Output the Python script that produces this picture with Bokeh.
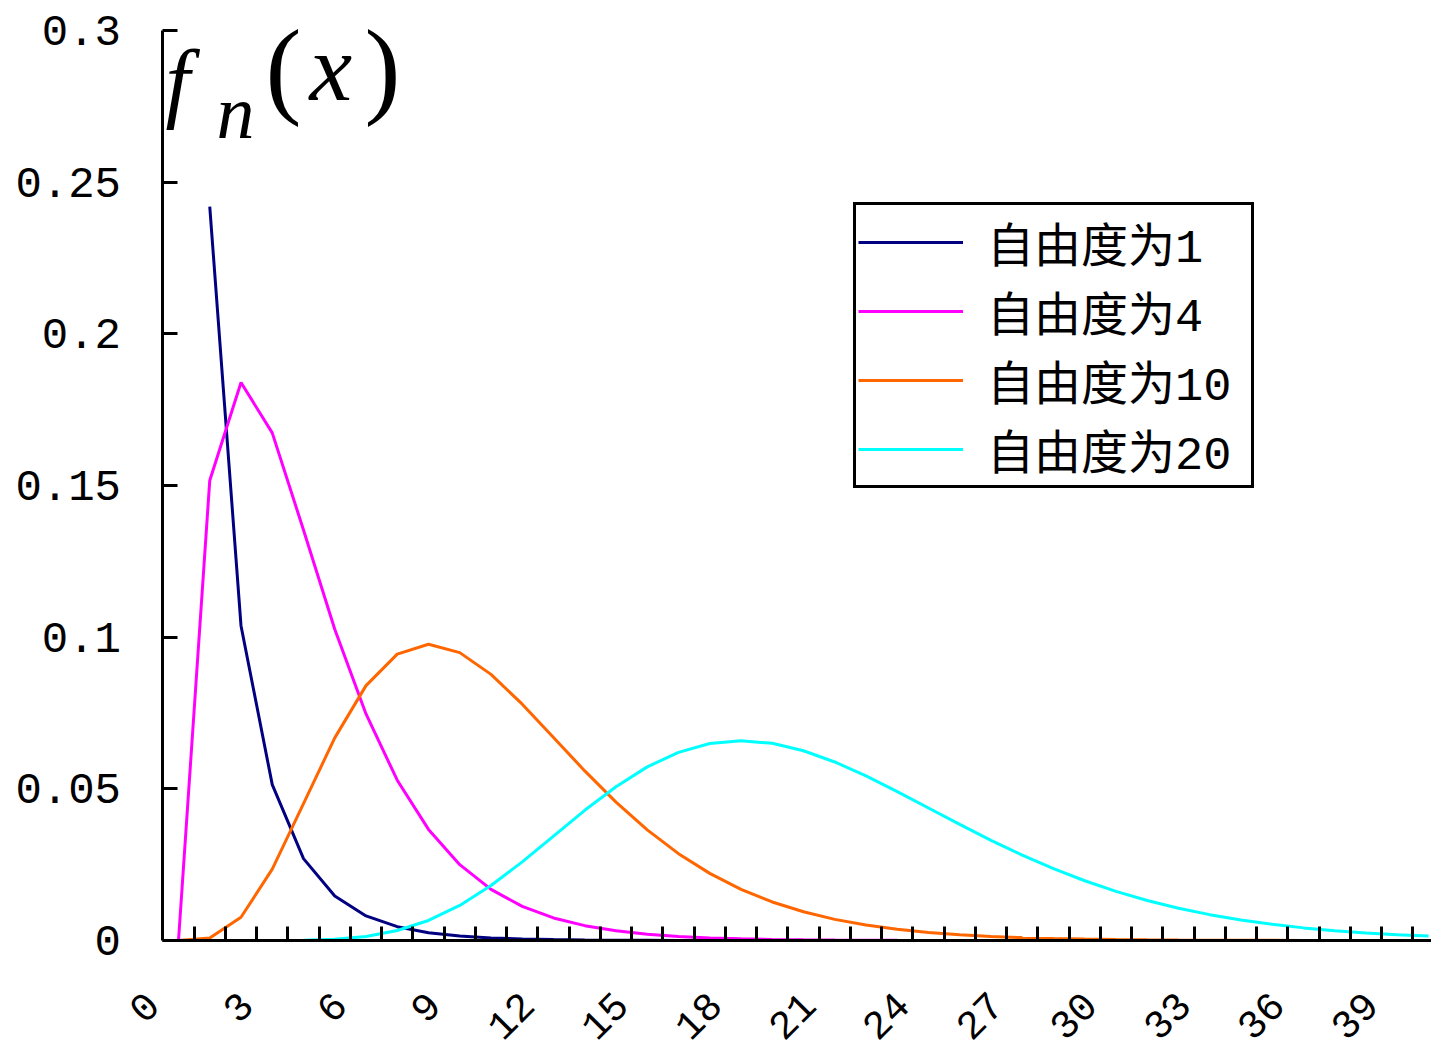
from bokeh.plotting import figure
from bokeh.models import (Range1d, FixedTicker, Legend, LegendItem, Label, LabelSet,
                          ColumnDataSource, CustomJSTickFormatter)
from bokeh.core.properties import value
from bokeh.embed import file_html
from bokeh.resources import INLINE
import math

nan = float("nan")

# ---------------- data ----------------
x_vals = list(range(41))

df1 = [nan, 0.24197, 0.10378, 0.05139, 0.02700, 0.01465, 0.00811, 0.00455, 0.00258,
       0.00148, 0.00085, 0.00049, 0.00029, 0.00017, 0.00010, 0.00006, 0.00003, 0.00002,
       0.00001, 0.00001, 0.0, 0.0, 0.0, 0.0, 0.0, 0.0, 0.0, 0.0, 0.0, 0.0, 0.0, 0.0, 0.0,
       0.0, 0.0, 0.0, 0.0, 0.0, 0.0, 0.0, 0.0]

df4 = [0.0, 0.15163, 0.18394, 0.16735, 0.13534, 0.10261, 0.07468, 0.05284, 0.03663,
       0.02500, 0.01684, 0.01124, 0.00744, 0.00489, 0.00319, 0.00207, 0.00134, 0.00086,
       0.00056, 0.00036, 0.00023, 0.00014, 0.00009, 0.00006, 0.00004, 0.00002, 0.00002,
       0.00001, 0.00001, 0.0, 0.0, 0.0, 0.0, 0.0, 0.0, 0.0, 0.0, 0.0, 0.0, 0.0, 0.0]

df10 = [0.0, 0.00079, 0.00766, 0.02353, 0.04511, 0.06680, 0.08402, 0.09440, 0.09768,
        0.09490, 0.08773, 0.07791, 0.06693, 0.05591, 0.04561, 0.03646, 0.02863, 0.02213,
        0.01687, 0.01270, 0.00946, 0.00697, 0.00509, 0.00369, 0.00265, 0.00190, 0.00134,
        0.00095, 0.00067, 0.00046, 0.00032, 0.00022, 0.00015, 0.00011, 0.00007, 0.00005,
        0.00003, 0.00002, 0.00002, 0.00001, 0.00001]

df20 = [0.0, 0.0, 0.0, 0.00001, 0.00010, 0.00043, 0.00135, 0.00328, 0.00661, 0.01157,
        0.01813, 0.02593, 0.03443, 0.04292, 0.05071, 0.05724, 0.06203, 0.06493, 0.06587,
        0.06500, 0.06255, 0.05885, 0.05426, 0.04910, 0.04368, 0.03826, 0.03303, 0.02813,
        0.02367, 0.01969, 0.01620, 0.01320, 0.01065, 0.00852, 0.00676, 0.00533, 0.00416,
        0.00323, 0.00249, 0.00191, 0.00145]

series_names = ["自由度为1", "自由度为4", "自由度为10", "自由度为20"]
series_colors = ["#000080", "#FF00FF", "#FF6600", "#00FFFF"]

x_tick_values = [0, 3, 6, 9, 12, 15, 18, 21, 24, 27, 30, 33, 36, 39]
x_tick_labels = ["0", "3", "6", "9", "12", "15", "18", "21", "24", "27", "30", "33", "36", "39"]
y_tick_values = [0, 0.05, 0.1, 0.15, 0.2, 0.25, 0.3]
y_tick_labels = ["0", "0.05", "0.1", "0.15", "0.2", "0.25", "0.3"]

# ---------------- layout constants (pixels) ----------------
W, H = 1431, 1050
PX_PER_X = 31.25          # pixels per category
X0_PX = 178.0             # pixel column of category 0
Y0_PX = 940.0             # pixel row of y = 0
PX_PER_Y = 910.0 / 0.3    # pixels per unit of y

def xd(px):
    return (px - X0_PX) / PX_PER_X

def yd(py):
    return (Y0_PX - py) / PX_PER_Y

AXIS_X = xd(161.5)        # where the value axis sits (left end of category axis)

p = figure(width=W, height=H, output_backend="svg", toolbar_location=None,
           x_range=Range1d(xd(0), xd(W)), y_range=Range1d(yd(H), yd(0)),
           min_border_left=0, min_border_right=0, min_border_top=0, min_border_bottom=0)
p.outline_line_color = None
p.background_fill_color = "white"
p.border_fill_color = "white"
p.xgrid.visible = False
p.ygrid.visible = False

renderers = []
for ys, c in zip([df1, df4, df10, df20], series_colors):
    r = p.line(x_vals, ys, line_color=c, line_width=3)
    renderers.append(r)

# category axis at y = 0, ticks on category boundaries pointing inward
xa = p.xaxis[0]
xa.fixed_location = 0
xa.bounds = (AXIS_X, xd(W))
xa.ticker = FixedTicker(ticks=[k + 0.5 for k in range(40)], minor_ticks=[])
xa.formatter = CustomJSTickFormatter(code="return ''")
xa.axis_line_color = "black"
xa.axis_line_width = 3
xa.major_tick_in = 14
xa.major_tick_out = 0
xa.major_tick_line_width = 3
xa.minor_tick_line_color = None

# value axis
ya = p.yaxis[0]
ya.fixed_location = AXIS_X
ya.bounds = (0, 0.3)
ya.ticker = FixedTicker(ticks=y_tick_values, minor_ticks=[])
ya.major_label_overrides = {v: s for v, s in zip(y_tick_values, y_tick_labels)}
ya.axis_line_color = "black"
ya.axis_line_width = 3
ya.major_tick_in = 15
ya.major_tick_out = 0
ya.major_tick_line_width = 3
ya.minor_tick_line_color = None
ya.major_label_standoff = 41
ya.major_label_text_font = "Liberation Mono"
ya.major_label_text_font_size = "44px"
ya.major_label_text_color = "black"

# rotated category labels below the axis
lab_src = ColumnDataSource(data=dict(x=x_tick_values, y=[0] * len(x_tick_values),
                                     text=x_tick_labels))
p.add_layout(LabelSet(x="x", y="y", text="text", source=lab_src,
                      x_offset=-26, y_offset=-58, angle=math.pi / 4,
                      text_align="right", text_baseline="middle",
                      text_font=value("Liberation Mono"), text_font_size=value("40px"),
                      text_color="black"))

# f_n(x) annotation
for txt, px, py, size, style in [("f", 165, 81, "88px", "italic"),
                                  ("n", 216, 111, "76px", "italic"),
                                  ("(", 265, 67, "108px", "normal"),
                                  ("x", 309, 67, "96px", "italic"),
                                  (")", 364, 67, "108px", "normal")]:
    p.add_layout(Label(x=xd(px), y=yd(py), text=txt, text_font="Liberation Serif",
                       text_font_size=size, text_font_style=style,
                       text_baseline="alphabetic", text_align="left", text_color="black"))

legend = Legend(items=[LegendItem(label=n, renderers=[r]) for n, r in zip(series_names, renderers)],
                location=(853, H - 488), orientation="vertical",
                label_text_font="Liberation Mono, Noto Sans CJK SC", label_text_font_size="47px",
                label_text_color="black",
                glyph_width=105, glyph_height=40, label_standoff=24, label_width=262,
                spacing=0, padding=2, margin=0,
                border_line_color="black", border_line_width=3, border_line_alpha=1.0,
                background_fill_color="white", background_fill_alpha=1.0)
p.add_layout(legend, "center")

open("out.html", "w").write(file_html(p, INLINE))
